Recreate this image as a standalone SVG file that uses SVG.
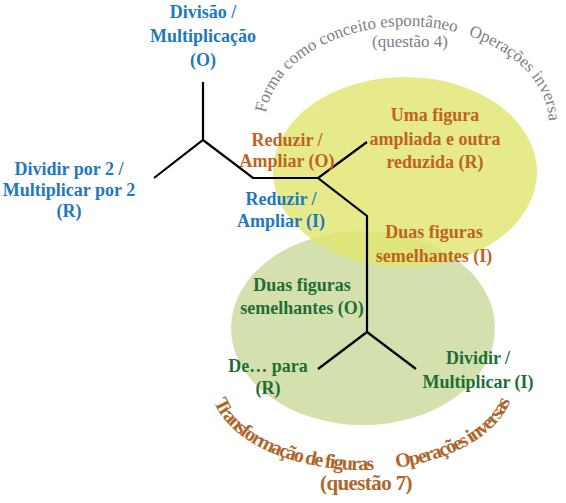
<svg xmlns="http://www.w3.org/2000/svg" width="566" height="503" viewBox="0 0 566 503">
<style>
text{font-family:'Liberation Serif','DejaVu Serif',serif}
.n{font-weight:bold;font-size:18px;text-anchor:middle}
.b{fill:#1E78C2}.o{fill:#C0631C}.g{fill:#1E6E35}
.arcT{font-size:17px;fill:#7F7F7F;letter-spacing:0px}
.arcB{font-size:20px;font-weight:bold;fill:#B0652A;letter-spacing:-1.6px}
.ln{fill:none;stroke:#000;stroke-width:2.2;stroke-linejoin:miter}
</style>
<defs>
<path id="topArc" d="M 265,124 A 142,98 0 0 1 549,124"/>
<path id="botArc" d="M 211,392 A 152,88 0 0 0 513,392"/>
</defs>
<g id="ellipses">
<ellipse id="green-area" cx="363" cy="328" rx="132" ry="97" fill="#D4E0AE"/>
<ellipse id="yellow-area" cx="405" cy="172" rx="132" ry="95" fill="#E0E570" fill-opacity="0.82"/>
</g>
<g id="connectors">
<path class="ln" d="M203,82 V140 M154,178 L203,140 L253,178 H318 M367,142 L318,178 L367,216 V332 M318,369 L367,332 L416,369"/>
</g>
<g id="node-divisao"><text class="n b" x="203" y="18">Divisão /</text><text class="n b" x="203" y="42">Multiplicação</text><text class="n b" x="203" y="66">(O)</text></g>
<g id="node-dividir2"><text class="n b" x="69" y="175">Dividir por 2 /</text><text class="n b" x="69" y="196">Multiplicar por 2</text><text class="n b" x="69" y="217">(R)</text></g>
<g id="node-reduzirO"><text class="n o" x="287" y="146">Reduzir /</text><text class="n o" x="287" y="167">Ampliar (O)</text></g>
<g id="node-reduzirI"><text class="n b" x="281" y="205">Reduzir /</text><text class="n b" x="281" y="227">Ampliar (I)</text></g>
<g id="node-umafigura"><text class="n o" x="435" y="121">Uma figura</text><text class="n o" x="435" y="145">ampliada e outra</text><text class="n o" x="435" y="168">reduzida (R)</text></g>
<g id="node-duasI"><text class="n o" x="434" y="238">Duas figuras</text><text class="n o" x="434" y="262">semelhantes (I)</text></g>
<g id="node-duasO"><text class="n g" x="302" y="291">Duas figuras</text><text class="n g" x="302" y="314">semelhantes (O)</text></g>
<g id="node-depara"><text class="n g" x="268" y="372">De… para</text><text class="n g" x="268" y="394">(R)</text></g>
<g id="node-dividirI"><text class="n g" x="478" y="364">Dividir /</text><text class="n g" x="478" y="388">Multiplicar (I)</text></g>
<g id="label-top">
<text class="arcT"><textPath href="#topArc" startOffset="11">Forma como conceito espontâneo</textPath></text>
<text class="arcT"><textPath href="#topArc" startOffset="252">Operações inversas</textPath></text>
<text class="arcT" x="410" y="47" text-anchor="middle">(questão 4)</text>
</g>
<g id="label-bottom">
<text class="arcB"><textPath href="#botArc" startOffset="10">Transformação de figuras</textPath></text>
<text class="arcB"><textPath href="#botArc" startOffset="216">Operações inversas</textPath></text>
<text class="arcB" x="366" y="490" text-anchor="middle" style="font-size:21px;letter-spacing:-0.6px">(questão 7)</text>
</g>
</svg>
